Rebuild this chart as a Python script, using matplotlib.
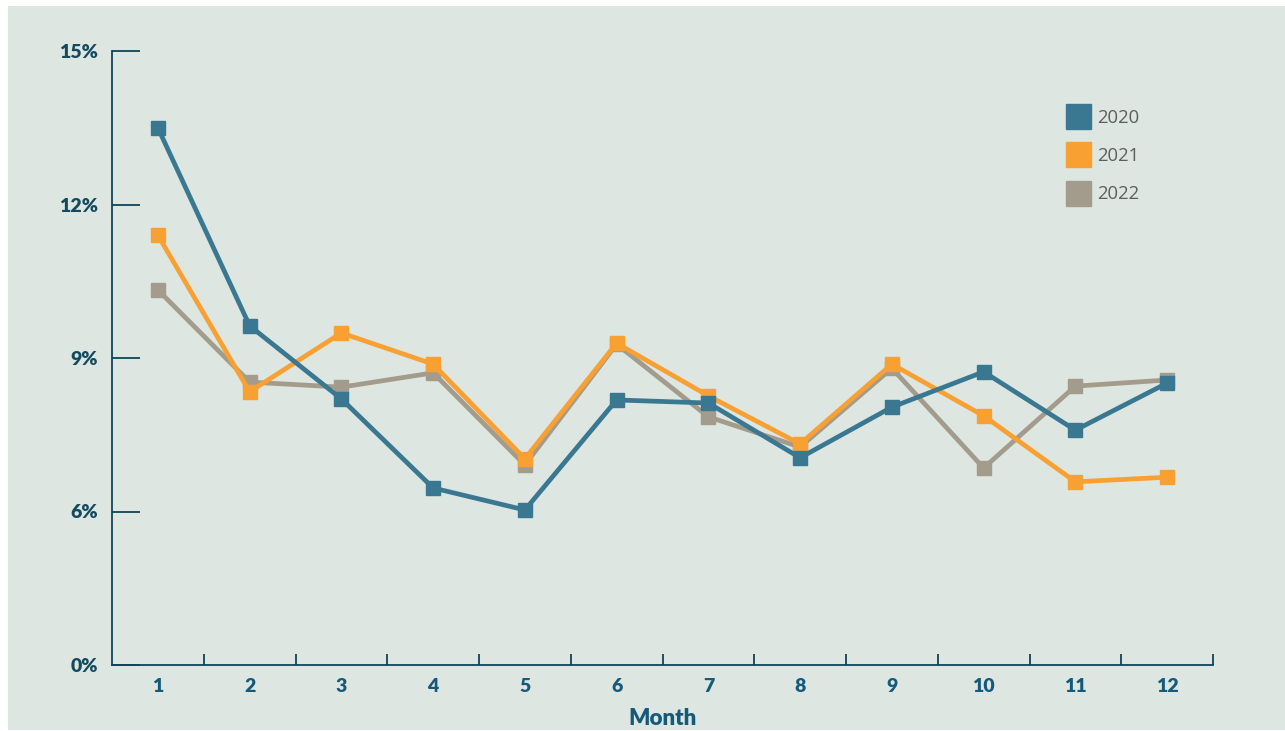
import matplotlib
matplotlib.use("Agg")
import matplotlib.pyplot as plt
from matplotlib.lines import Line2D
from matplotlib.patches import Rectangle

months = [1, 2, 3, 4, 5, 6, 7, 8, 9, 10, 11, 12]
series_names = ["2020", "2021", "2022"]
v2020 = [13.50, 9.63, 8.20, 6.46, 6.03, 8.18, 8.12, 7.05, 8.04, 8.73, 7.59, 8.51]
v2021 = [11.40, 8.34, 9.49, 8.88, 7.03, 9.29, 8.26, 7.32, 8.88, 7.87, 6.58, 6.67]
v2022 = [10.33, 8.53, 8.43, 8.71, 6.91, 9.27, 7.85, 7.26, 8.80, 6.85, 8.45, 8.57]
# The axis bottom is labelled 0% but the scale is linear from the 3% step
ytick_vals = [3, 6, 9, 12, 15]
ytick_labels = ["0%", "6%", "9%", "12%", "15%"]

colors = {"2020": "#3A7891", "2021": "#F9A033", "2022": "#A39B8B"}
axis_col = "#0F4559"
label_col = "#134A5E"
bg = "#DDE6E1"

W, H = 1285, 731
fig = plt.figure(figsize=(W / 100, H / 100), dpi=100)
fig.patch.set_facecolor("white")
fig.patches.append(Rectangle((8 / W, 1 / H), 1 - 8 / W, (730 - 6) / H,
                             transform=fig.transFigure, facecolor=bg,
                             edgecolor="none", zorder=-10))

ax = fig.add_axes([112 / W, (H - 665) / H, (1213 - 112) / W, (665 - 51) / H])
ax.set_facecolor("none")

data = {"2020": v2020, "2021": v2021, "2022": v2022}
zo = {"2022": 3, "2021": 4, "2020": 5}
for name in ["2022", "2021", "2020"]:
    ax.plot(months, data[name], color=colors[name], lw=3.4, marker="s",
            markersize=10, zorder=zo[name], solid_joinstyle="miter")

ax.set_xlim(0.5, 12.5)
ax.set_ylim(3, 15)
ax.set_yticks(ytick_vals)
ax.set_yticklabels(ytick_labels)
ax.set_xticks(months)
ax.set_xticks([m + 0.5 for m in months], minor=True)
ax.set_xticklabels([str(m) for m in months])

for s in ["top", "right"]:
    ax.spines[s].set_visible(False)
for s in ["left", "bottom"]:
    ax.spines[s].set_color(axis_col)
    ax.spines[s].set_linewidth(1.3)

ax.tick_params(axis="y", direction="in", length=20, width=1.3, color=axis_col,
               pad=10, labelsize=14, labelcolor=label_col)
ax.tick_params(axis="x", which="major", length=0, pad=9, labelsize=14,
               labelcolor="#155A7A")
ax.tick_params(axis="x", which="minor", direction="in", length=8, width=1.3,
               color=axis_col)
for lab in ax.get_xticklabels() + ax.get_yticklabels():
    lab.set_fontfamily("Lato")
    lab.set_fontweight("heavy")

ax.set_xlabel("Month", fontfamily="Lato", fontweight="heavy", fontsize=16,
              color="#155A7A", labelpad=10)

handles = [Line2D([], [], ls="", marker="s", markersize=18,
                  color=colors[n]) for n in series_names]
leg = ax.legend(handles, series_names, loc="upper left",
                bbox_to_anchor=(1050 / W, (H - 92) / H),
                bbox_transform=fig.transFigure, frameon=False,
                handlelength=1.2, handletextpad=0.45, labelspacing=1.1,
                prop={"family": "Open Sans", "weight": "normal", "size": 13.3})
for t in leg.get_texts():
    t.set_color("#5E5E5E")

fig.savefig("out.png", dpi=100, facecolor=fig.get_facecolor())
